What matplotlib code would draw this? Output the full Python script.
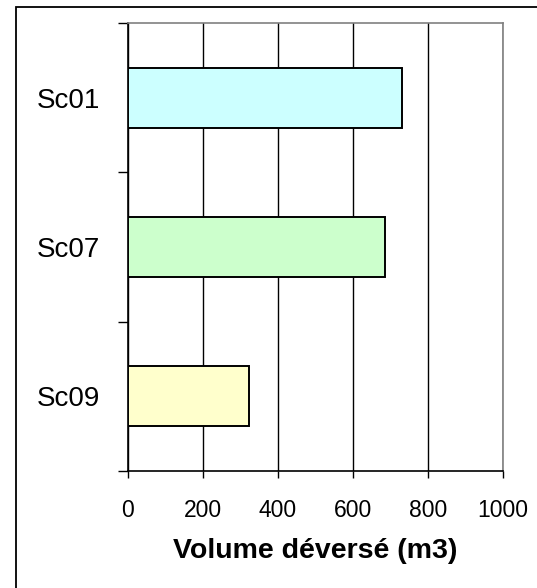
import matplotlib
matplotlib.use('Agg')
import matplotlib.pyplot as plt
import matplotlib.patches as patches
import numpy as np

# data
scenarios = ['Sc01', 'Sc07', 'Sc09']
volumes = [731, 685, 323]
colors = ['#CCFFFF', '#CCFFCC', '#FFFFCC']
x_ticks = [0, 200, 400, 600, 800, 1000]

plt.rcParams['font.family'] = ['Liberation Sans', 'DejaVu Sans']

fig = plt.figure(figsize=(5.37, 5.88), dpi=100)
ax = fig.add_axes([128/537, 1 - 471/588, 375/537, 448/588])

y = np.arange(len(scenarios))
ax.barh(y, volumes, height=0.4, color=colors, edgecolor='black', linewidth=1.4, zorder=3)

ax.set_xlim(0, 1000)
ax.set_ylim(len(scenarios) - 0.5, -0.5)
ax.set_xticks(x_ticks)
ax.set_xticklabels([str(v) for v in x_ticks], fontsize=16.5)
ax.tick_params(axis='x', direction='out', length=5, width=1, pad=15)

# ticks at the band borders, labels in the middle of the bands
ax.set_yticks(np.arange(-0.5, len(scenarios), 1))
ax.set_yticklabels([])
ax.set_yticks(y, minor=True)
ax.set_yticklabels(scenarios, minor=True, fontsize=20)
ax.tick_params(axis='y', which='major', direction='out', length=7, width=1)
ax.tick_params(axis='y', which='minor', length=0, pad=20)

ax.grid(axis='x', color='black', linewidth=1, zorder=0)
ax.spines['left'].set_color('black')
ax.spines['bottom'].set_color('black')
ax.spines['top'].set_color('#808080')
ax.spines['right'].set_color('#808080')
for s in ax.spines.values():
    s.set_linewidth(1.2)

ax.set_xlabel('Volume déversé (m3)', fontsize=20.5, fontweight='bold', labelpad=12)

# outer chart frame
fig.patches.append(patches.Rectangle((16/537, -0.1), 2, 1 - 7.5/588 + 0.1,
                                     transform=fig.transFigure, fill=False,
                                     edgecolor='black', linewidth=1.3))

fig.savefig('out.png', dpi=100)
